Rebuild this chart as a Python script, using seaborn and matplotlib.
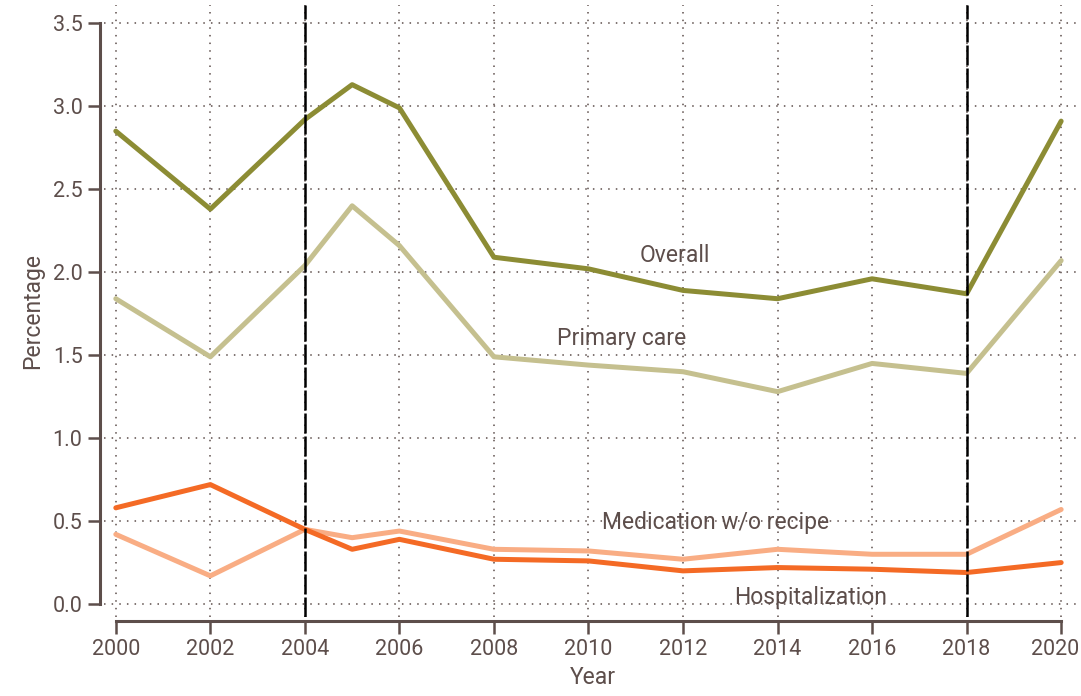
import matplotlib
matplotlib.use("Agg")
import matplotlib.pyplot as plt
import matplotlib.transforms as mtransforms
import seaborn as sns
import pandas as pd

# ── Data ──────────────────────────────────────────────────────────────────────
years = [2000, 2002, 2004, 2005, 2006, 2008, 2010, 2012, 2014, 2016, 2018, 2020]
overall = [2.85, 2.38, 2.92, 3.13, 2.99, 2.09, 2.02, 1.89, 1.84, 1.96, 1.87, 2.91]
primary_care = [1.84, 1.49, 2.04, 2.40, 2.16, 1.49, 1.44, 1.40, 1.28, 1.45, 1.39, 2.07]
hospitalization = [0.58, 0.72, 0.45, 0.33, 0.39, 0.27, 0.26, 0.20, 0.22, 0.21, 0.19, 0.25]
medication = [0.42, 0.17, 0.45, 0.40, 0.44, 0.33, 0.32, 0.27, 0.33, 0.30, 0.30, 0.57]
marker_years = [2004, 2018]

series = {
    "Overall": (overall, "#8c8c34", (2011.83, 2.10)),
    "Primary care": (primary_care, "#c5c08f", (2010.7, 1.60)),
    "Hospitalization": (hospitalization, "#f46a25", (2014.69, 0.04)),
    "Medication w/o recipe": (medication, "#f9ad84", (2012.68, 0.49)),
}

# ── Style ─────────────────────────────────────────────────────────────────────
TXT = "#5d4e4b"
sns.set_theme(style="ticks")
plt.rcParams["font.family"] = ["Roboto", "DejaVu Sans"]
plt.rcParams.update({
    "text.color": TXT, "axes.labelcolor": TXT,
    "xtick.color": TXT, "ytick.color": TXT,
    "axes.edgecolor": TXT,
})

fig = plt.figure(figsize=(10.81, 6.96), dpi=100)
ax = fig.add_axes([104 / 1081, 1 - 617 / 696, 977 / 1081, 612 / 696])

draw_order = ["Overall", "Primary care", "Medication w/o recipe", "Hospitalization"]
for name in draw_order:
    vals, color, (tx, ty) = series[name]
    df = pd.DataFrame({"Year": years, "Percentage": vals})
    sns.lineplot(data=df, x="Year", y="Percentage", color=color, lw=3.6, ax=ax)
    ax.text(tx, ty, name, ha="center", va="center", fontsize=16.5, color=TXT)

for yr in marker_years:
    ax.axvline(yr, color="black", lw=1.8, ls=(0, (8, 1.2)), zorder=3)

ax.set_xlim(1999.75, 2020.42)
ax.set_ylim(-0.078, 3.61)
ax.set_xticks(range(2000, 2021, 2))
ax.set_yticks([0, 0.5, 1.0, 1.5, 2.0, 2.5, 3.0, 3.5])
ax.set_yticklabels([f"{v:.1f}" for v in ax.get_yticks()])
ax.grid(True, color=TXT, ls=(0, (1, 4)), lw=1.1)
ax.tick_params(labelsize=15.5, length=9, width=1.8)
ax.set_xlabel("Year", fontsize=16.5, labelpad=5)
ax.set_ylabel("Percentage", fontsize=16.5, labelpad=6)

sns.despine(ax=ax, offset=3, trim=True)
for side in ["left", "bottom"]:
    ax.spines[side].set_linewidth(2.2)

# keep the last year label inside the canvas
last = ax.get_xticklabels()[-1]
last.set_transform(last.get_transform() + mtransforms.ScaledTranslation(-6 / 100, 0, fig.dpi_scale_trans))

fig.savefig("out.png", dpi=100)
